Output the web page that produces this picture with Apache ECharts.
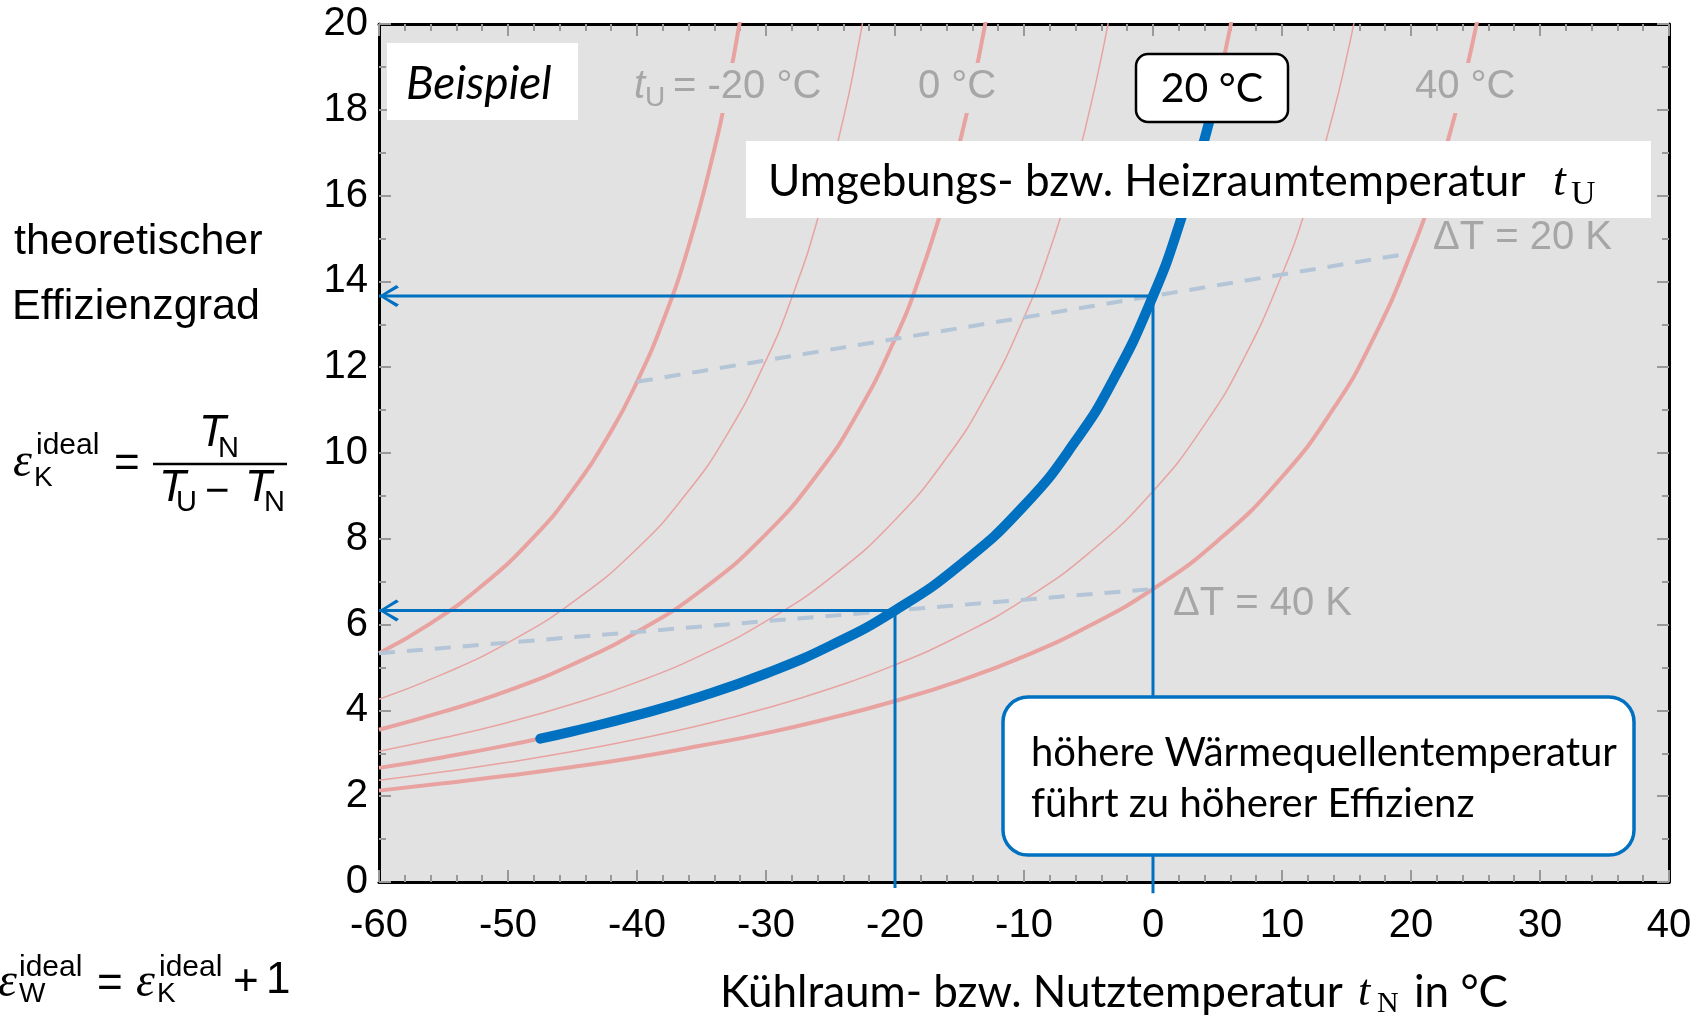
<!DOCTYPE html>
<html>
<head>
<meta charset="utf-8">
<script src="https://cdn.jsdelivr.net/npm/echarts@6/dist/echarts.min.js"></script>
<style>
  html, body { margin: 0; padding: 0; background: #fff; }
  #main { width: 1704px; height: 1018px; }
</style>
</head>
<body>
<div id="main"></div>
<script>
// theoretischer Effizienzgrad eps_K over Nutztemperatur t_N, one curve per t_U
var tuM20 = [[-60,5.33],[-56,6.03],[-52,6.91],[-48,8.04],[-45,9.13],[-42,10.51],[-40,11.66],[-38,13.06],[-36,14.82],[-34,17.08],[-33,18.47],[-32,20.10],[-31,22.01]];
var tuM10 = [[-60,4.26],[-55,4.85],[-50,5.58],[-45,6.52],[-40,7.77],[-36,9.12],[-33,10.44],[-30,12.16],[-28,13.62],[-26,15.45],[-24,17.80],[-23,19.24],[-22,20.93]];
var tu0   = [[-60,3.55],[-55,3.97],[-50,4.46],[-45,5.07],[-40,5.83],[-35,6.80],[-30,8.11],[-26,9.51],[-23,10.88],[-20,12.66],[-18,14.18],[-16,16.07],[-15,17.21],[-14,18.51],[-13,20.01],[-12,21.76]];
var tu10  = [[-60,3.05],[-55,3.36],[-50,3.72],[-45,4.15],[-40,4.66],[-35,5.29],[-30,6.08],[-25,7.09],[-20,8.44],[-16,9.89],[-13,11.31],[-10,13.16],[-8,14.73],[-6,16.70],[-5,17.88],[-4,19.23],[-3,20.78]];
var tu20  = [[-60,2.66],[-55,2.91],[-50,3.19],[-45,3.51],[-40,3.89],[-35,4.33],[-30,4.86],[-25,5.51],[-20,6.33],[-15,7.38],[-10,8.77],[-6,10.28],[-3,11.75],[0,13.66],[2,15.29],[4,17.32],[5,18.54],[6,19.94],[7,21.55]];
var tu30  = [[-60,2.37],[-55,2.57],[-50,2.79],[-45,3.04],[-40,3.33],[-35,3.66],[-30,4.05],[-25,4.51],[-20,5.06],[-15,5.74],[-10,6.58],[-5,7.66],[0,9.11],[4,10.66],[7,12.18],[10,14.16],[12,15.84],[14,17.95],[15,19.21],[16,20.65]];
var tu40  = [[-60,2.13],[-55,2.30],[-50,2.48],[-45,2.68],[-40,2.91],[-35,3.18],[-30,3.47],[-25,3.82],[-20,4.22],[-15,4.69],[-10,5.26],[-5,5.96],[0,6.83],[5,7.95],[10,9.44],[14,11.04],[17,12.62],[20,14.66],[22,16.40],[24,18.57],[25,19.88],[26,21.37]];
// Beispiel t_U = 20 °C
var beispiel = [[-47.5,3.34],[-45,3.51],[-40,3.89],[-35,4.33],[-30,4.86],[-25,5.51],[-20,6.33],[-15,7.38],[-10,8.77],[-6,10.28],[-3,11.75],[0,13.66],[2,15.29],[4,17.32],[4.6,18.04]];
// Linien gleicher Temperaturdifferenz
var dT20 = [[-40,11.66],[20,14.66]];
var dT40 = [[-60,5.33],[0,6.83]];
// Ablesehilfen
var ablesen0   = [[0,-0.26],[0,13.66],[-60,13.66]];
var ablesenM20 = [[-20,-0.14],[-20,6.33],[-60,6.33]];

var rot = '#e8a3a1', blau = '#0070c0', grau = '#a6a6a6';
var sans = 'Liberation Sans', calibri = 'Lato', serif = 'Liberation Serif';
var pfeil = 'path://M0,10 L13,0 L15,2.2 L3.6,10 L15,17.8 L13,20 Z';

function kurve(data, dick) {
    return { type: 'line', data: data, smooth: true, showSymbol: false, silent: true, z: 2,
        lineStyle: { color: rot, width: dick ? 4 : 1.5 } };
}
function ablese(data) {
    return { type: 'line', data: data, showSymbol: false, silent: true, clip: false, z: 5,
        lineStyle: { color: blau, width: 3 },
        markPoint: { silent: true, symbol: pfeil, symbolSize: [20, 22], symbolOffset: [10, 0],
            itemStyle: { color: blau }, label: { show: false },
            data: [{ coord: data[2] }] } };
}
function txt(x, y, s, size, family, opt) {
    opt = opt || {};
    return { type: 'text', x: x, y: y, z: 100, silent: true,
        style: { text: s, fontSize: size, fontFamily: family, fontStyle: opt.italic ? 'italic' : 'normal',
            fill: opt.fill || '#000', align: opt.align || 'left', verticalAlign: 'middle',
            textAlign: opt.align || 'left', textVerticalAlign: 'middle' } };
}
function box(x, y, w, h, r, fill, stroke, lw) {
    return { type: 'rect', z: 90, silent: true, shape: { x: x, y: y, width: w, height: h, r: r },
        style: { fill: fill, stroke: stroke || null, lineWidth: lw || 0 } };
}

var achse = {
    min: -60, max: 40, interval: 10,
    axisLine: { onZero: false, lineStyle: { color: '#000', width: 3 } },
    axisTick: { inside: true, length: 12, lineStyle: { color: '#999', width: 2 } },
    minorTick: { show: true, splitNumber: 5, length: 7, lineStyle: { color: '#999', width: 2 } },
    splitLine: { show: false }
};
var yachse = {
    min: 0, max: 20, interval: 2,
    axisLine: { show: true, onZero: false, lineStyle: { color: '#000', width: 3 } },
    axisTick: { show: true, inside: true, length: 12, lineStyle: { color: '#999', width: 2 } },
    minorTick: { show: true, splitNumber: 2, length: 7, lineStyle: { color: '#999', width: 2 } },
    splitLine: { show: false }
};

var myChart = echarts.init(document.getElementById('main'));
var option = {
    animation: false,
    grid: { left: 379, top: 24, width: 1290, height: 858, show: true, backgroundColor: '#e2e2e2', borderWidth: 0 },
    xAxis: [
        Object.assign({ type: 'value', position: 'bottom',
            axisLabel: { fontSize: 40, fontFamily: sans, color: '#000', margin: 24 } }, achse),
        Object.assign({ type: 'value', position: 'top', axisLabel: { show: false } }, achse)
    ],
    yAxis: [
        Object.assign({ type: 'value', position: 'left',
            axisLabel: { fontSize: 40, fontFamily: sans, color: '#000', margin: 11 } }, yachse),
        Object.assign({ type: 'value', position: 'right', axisLabel: { show: false } }, yachse)
    ],
    series: [
        kurve(tuM20, true), kurve(tuM10, false), kurve(tu0, true), kurve(tu10, false),
        kurve(tu20, true), kurve(tu30, false), kurve(tu40, true),
        { type: 'line', data: dT20, showSymbol: false, silent: true, z: 3,
          lineStyle: { color: '#b3c5d6', width: 4, type: [16, 12] } },
        { type: 'line', data: dT40, showSymbol: false, silent: true, z: 3,
          lineStyle: { color: '#b3c5d6', width: 4, type: [16, 12] } },
        ablese(ablesen0), ablese(ablesenM20),
        { type: 'line', data: beispiel, smooth: true, showSymbol: false, silent: true, z: 6,
          lineStyle: { color: blau, width: 10, cap: 'round' } }
    ],
    graphic: [
        // Beispiel
        box(387, 43, 191, 77, 0, '#fff'),
        txt(406, 84, 'Beispiel', 46, calibri, { italic: true }),
        // t_U Beschriftungen
        box(628, 63, 202, 50, 0, '#e2e2e2'),
        txt(634, 87, 't', 40, sans, { italic: true, fill: grau }),
        txt(645, 98, 'U', 28, sans, { fill: grau }),
        txt(673, 87, '= -20 °C', 40, sans, { fill: grau }),
        box(912, 63, 90, 50, 0, '#e2e2e2'),
        txt(918, 87, '0 °C', 40, sans, { fill: grau }),
        box(1409, 63, 112, 50, 0, '#e2e2e2'),
        txt(1415, 87, '40 °C', 40, sans, { fill: grau }),
        box(1136, 54, 152, 68, 12, '#fff', '#000', 2.5),
        txt(1212, 89, '20 °C', 41, calibri, { align: 'center' }),
        // Umgebungstemperatur
        box(746, 141, 905, 77, 0, '#fff'),
        txt(768, 182, 'Umgebungs- bzw. Heizraumtemperatur', 44, calibri),
        txt(1553, 183, 't', 46, serif, { italic: true }),
        txt(1571, 195, 'U', 34, serif),
        // Temperaturdifferenzen
        txt(1433, 238, 'ΔT = 20 K', 40, sans, { fill: grau }),
        txt(1173, 604, 'ΔT = 40 K', 40, sans, { fill: grau }),
        // Hinweis
        box(1003, 697, 631, 158, 25, '#fff', blau, 3.5),
        txt(1031, 753, 'höhere Wärmequellentemperatur', 40, calibri),
        txt(1031, 804, 'führt zu höherer Effizienz', 40, calibri),
        // x-Achsentitel
        txt(720, 993, 'Kühlraum- bzw. Nutztemperatur', 44, calibri),
        txt(1358, 993, 't', 44, serif, { italic: true }),
        txt(1377, 1004, 'N', 30, serif),
        txt(1414, 993, 'in °C', 44, calibri),
        // linke Seite
        txt(14, 242, 'theoretischer', 43, sans),
        txt(12, 307, 'Effizienzgrad', 43, sans),
        txt(13, 463, 'ε', 48, serif, { italic: true }),
        txt(36, 446, 'ideal', 30, sans),
        txt(34, 478, 'K', 28, sans),
        txt(114, 465, '=', 44, sans),
        { type: 'line', z: 100, silent: true, shape: { x1: 153, y1: 464, x2: 287, y2: 464 },
          style: { stroke: '#000', lineWidth: 2.5 } },
        txt(199, 434, 'T', 44, sans, { italic: true }),
        txt(218, 449, 'N', 29, sans),
        txt(159, 489, 'T', 44, sans, { italic: true }),
        txt(176, 503, 'U', 29, sans),
        txt(205, 492, '−', 42, sans),
        txt(245, 489, 'T', 44, sans, { italic: true }),
        txt(264, 503, 'N', 29, sans),
        txt(-2, 983, 'ε', 48, serif, { italic: true }),
        txt(19, 968, 'ideal', 30, sans),
        txt(19, 994, 'W', 28, sans),
        txt(97, 985, '=', 44, sans),
        txt(136, 983, 'ε', 48, serif, { italic: true }),
        txt(159, 968, 'ideal', 30, sans),
        txt(157, 994, 'K', 28, sans),
        txt(233, 983, '+', 44, sans),
        txt(266, 981, '1', 44, sans)
    ]
};
myChart.setOption(option);
</script>
</body>
</html>
